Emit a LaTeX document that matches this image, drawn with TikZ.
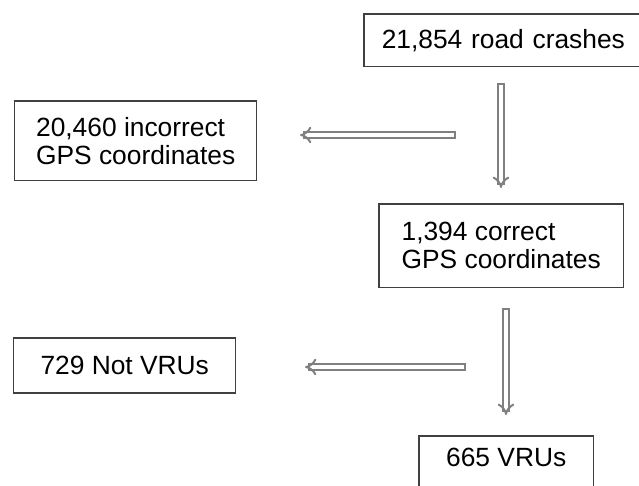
\documentclass[tikz,border=0pt]{standalone}
\usepackage{fontspec}
\setmainfont{Liberation Sans}
\usetikzlibrary{arrows.meta, positioning}

\tikzset{
  box/.style={rectangle, draw=black!75, line width=0.03cm, fill=white, inner ysep=0pt,
    font=\fontsize{15}{15.9}\selectfont},
  flow/.style={draw=black!50, line width=0.04cm, double=white, double distance=0.07cm, line cap=rect, -{Implies[scale=1.3]}},
}

\begin{document}
\begin{tikzpicture}[x=0.02cm, y=-0.02cm]
        \clip (0,0) rectangle (639,485);

        \node[box, anchor=north west, minimum height=1.06cm, inner xsep=0.36cm, text width=5.28cm, align=left] at (363, 13) (crashes) {21,854 road crashes};
        \node[box, anchor=north west, minimum width=4.84cm, minimum height=1.6cm, align=left] at (14, 100) (wrong) {20,460 incorrect\\GPS coordinates};
        \node[box, anchor=north west, minimum width=4.9cm, minimum height=1.68cm, align=left] at (378, 203) (right) {1,394 correct\\GPS coordinates};
        \node[box, anchor=north west, minimum width=4.44cm, minimum height=1.1cm] at (13, 337) (notvru) {729 Not VRUs};
        \node[box, anchor=north west, minimum width=3.5cm, text height=0.62cm, text depth=1cm] at (418, 435) (vru) {665 VRUs};

        \coordinate (down1) at (501, 87);
        \coordinate (down1end) at (501, 188);
        \coordinate (left1) at (452, 135);
        \coordinate (left1end) at (300, 135);
        \coordinate (down2) at (506, 312);
        \coordinate (down2end) at (506, 415);
        \coordinate (left2) at (462, 367);
        \coordinate (left2end) at (305, 367);

        \draw[flow] (down1) to (down1end);
        \draw[flow] (left1) to (left1end);
        \draw[flow] (down2) to (down2end);
        \draw[flow] (left2) to (left2end);
    \end{tikzpicture}
\end{document}
